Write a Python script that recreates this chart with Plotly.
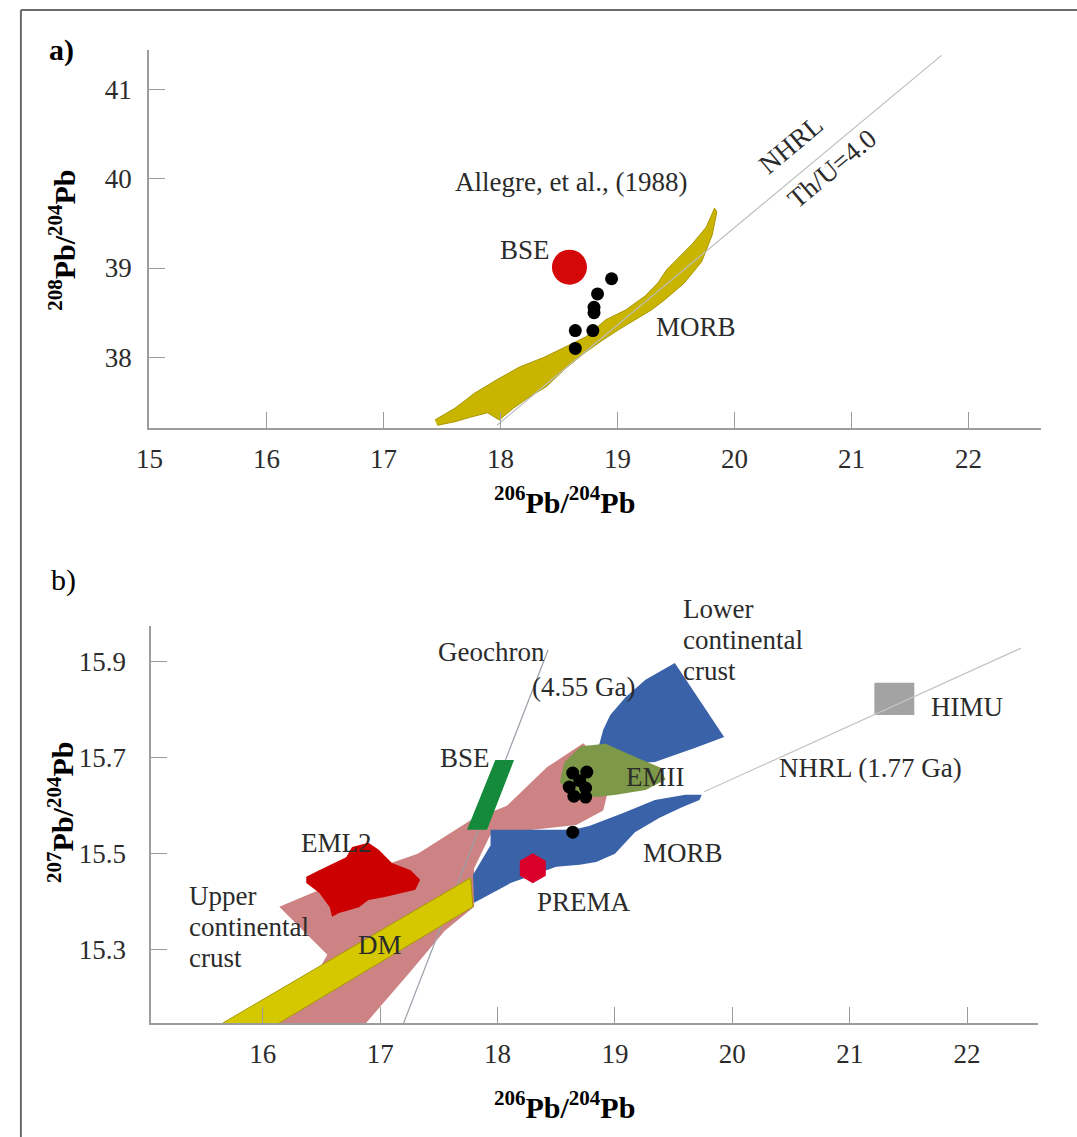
import plotly.graph_objects as go

# ---------------- panel a: 208Pb/204Pb vs 206Pb/204Pb ----------------
a_morb_x = [17.44, 17.61, 17.78, 17.97, 18.16, 18.37, 18.56, 18.73, 18.90, 19.07, 19.24, 19.35,
            19.42, 19.64, 19.76, 19.83, 19.85, 19.81, 19.72, 19.57, 19.40, 19.29, 19.15, 19.01,
            18.87, 18.73, 18.56, 18.39, 18.25, 18.11, 17.99, 17.89, 17.74, 17.61, 17.46]
a_morb_y = [37.30, 37.43, 37.60, 37.75, 37.89, 38.00, 38.12, 38.23, 38.42, 38.53, 38.69, 38.84,
            38.98, 39.27, 39.46, 39.67, 39.63, 39.37, 39.07, 38.83, 38.64, 38.53, 38.42, 38.31,
            38.19, 38.06, 37.88, 37.67, 37.56, 37.43, 37.30, 37.38, 37.33, 37.28, 37.24]

a_bse_x = [18.59]
a_bse_y = [39.01]

a_samples_x = [18.95, 18.83, 18.80, 18.80, 18.64, 18.79, 18.64]
a_samples_y = [38.88, 38.71, 38.56, 38.50, 38.30, 38.30, 38.10]

a_nhrl_x = [17.97, 21.77]
a_nhrl_y = [37.24, 41.38]

a_xticks = [15, 16, 17, 18, 19, 20, 21, 22]
a_yticks = [38, 39, 40, 41]

# ---------------- panel b: 207Pb/204Pb vs 206Pb/204Pb ----------------
ucc_x = [16.14, 16.73, 17.32, 17.77, 18.08, 18.42, 18.73, 18.90, 18.95, 18.90, 18.67, 17.94,
         17.80, 17.80, 17.55, 17.24, 16.88, 16.08, 16.40, 16.55]
ucc_y = [15.39, 15.45, 15.50, 15.57, 15.60, 15.68, 15.73, 15.69, 15.64, 15.59, 15.56, 15.54,
         15.47, 15.39, 15.34, 15.25, 15.148, 15.148, 15.227, 15.29]

eml2_x = [16.37, 16.48, 16.71, 16.76, 16.90, 16.99, 17.10, 17.26, 17.34, 17.30, 17.04, 16.90,
          16.82, 16.65, 16.59, 16.57, 16.48, 16.37]
eml2_y = [15.452, 15.466, 15.493, 15.514, 15.523, 15.508, 15.481, 15.466, 15.446, 15.425, 15.410,
          15.404, 15.389, 15.377, 15.369, 15.389, 15.419, 15.439]

dm_x = [15.66, 17.77, 17.79, 16.14]
dm_y = [15.148, 15.45, 15.39, 15.148]

morb_x = [17.94, 18.64, 18.78, 19.07, 19.34, 19.60, 19.74, 19.72, 19.58, 19.38, 19.17, 19.00,
          18.84, 18.70, 18.50, 18.27, 18.11, 17.80, 17.79, 17.94]
morb_y = [15.550, 15.550, 15.558, 15.585, 15.612, 15.623, 15.623, 15.612, 15.598, 15.575, 15.545,
          15.500, 15.483, 15.477, 15.473, 15.452, 15.439, 15.398, 15.456, 15.518]

lcc_x = [19.51, 19.93, 19.68, 19.34, 18.92, 18.86, 18.90, 18.96, 19.09, 19.26]
lcc_y = [15.897, 15.743, 15.720, 15.691, 15.685, 15.722, 15.758, 15.789, 15.826, 15.862]

emii_x = [18.53, 18.57, 18.71, 18.92, 19.13, 19.39, 19.43, 19.26, 19.01, 18.84, 18.63]
emii_y = [15.650, 15.691, 15.724, 15.729, 15.706, 15.679, 15.654, 15.633, 15.623, 15.618, 15.623]

bse_x = [17.74, 17.91, 18.14, 17.98]
bse_y = [15.55, 15.55, 15.695, 15.695]

himu_x = [21.21, 21.55, 21.55, 21.21]
himu_y = [15.789, 15.789, 15.856, 15.856]

prema_x = [18.30]
prema_y = [15.47]

b_samples_x = [18.64, 18.76, 18.70, 18.61, 18.75, 18.65, 18.75, 18.64]
b_samples_y = [15.668, 15.670, 15.652, 15.639, 15.637, 15.620, 15.618, 15.545]

geochron_x = [17.20, 18.43]
geochron_y = [15.148, 15.924]

b_nhrl_x = [19.76, 22.46]
b_nhrl_y = [15.629, 15.928]

b_xticks = [16, 17, 18, 19, 20, 21, 22]
b_yticks = [15.3, 15.5, 15.7, 15.9]

SERIF = "Liberation Serif, Times New Roman, serif"
TXT = "#2b2b2b"
AXC = "#9c9c9c"

fig = go.Figure()


def area(x, y, color, xa, ya, edge=None):
    fig.add_trace(go.Scatter(
        x=x, y=y, fill="toself", fillcolor=color, mode="lines",
        line=dict(color=edge or color, width=1 if edge else 0),
        xaxis=xa, yaxis=ya, hoverinfo="skip", showlegend=False))


def line(x, y, xa, ya, color="#b0b0b0", width=1.2):
    fig.add_trace(go.Scatter(
        x=x, y=y, mode="lines", line=dict(color=color, width=width),
        xaxis=xa, yaxis=ya, hoverinfo="skip", showlegend=False))


def dots(x, y, xa, ya, color="black", size=13, symbol="circle"):
    fig.add_trace(go.Scatter(
        x=x, y=y, mode="markers",
        marker=dict(color=color, size=size, symbol=symbol, line=dict(width=0)),
        xaxis=xa, yaxis=ya, hoverinfo="skip", showlegend=False, cliponaxis=False))


# panel a
area(a_morb_x, a_morb_y, "#c9b500", "x", "y", edge="#a89600")
line(a_nhrl_x, a_nhrl_y, "x", "y", color="#bdbdbd")
dots(a_bse_x, a_bse_y, "x", "y", color="#d40808", size=35)
dots(a_samples_x, a_samples_y, "x", "y", size=13)

# panel b
area(ucc_x, ucc_y, "#cd8383", "x2", "y2")
line(geochron_x, geochron_y, "x2", "y2", color="#9aa0a8")
area(eml2_x, eml2_y, "#cc0000", "x2", "y2")
area(dm_x, dm_y, "#d6c800", "x2", "y2", edge="#a59a00")
area(morb_x, morb_y, "#3a62a8", "x2", "y2")
area(lcc_x, lcc_y, "#3a62a8", "x2", "y2")
area(emii_x, emii_y, "#7d9848", "x2", "y2")
area(bse_x, bse_y, "#148a3a", "x2", "y2")
area(himu_x, himu_y, "#a3a3a3", "x2", "y2")
line(b_nhrl_x, b_nhrl_y, "x2", "y2", color="#c4c4c4")
dots(prema_x, prema_y, "x2", "y2", color="#d8002a", size=30, symbol="hexagon")
dots(b_samples_x, b_samples_y, "x2", "y2", size=13)

ax_common = dict(
    showline=True, linecolor=AXC, linewidth=1.6, ticks="inside", ticklen=16,
    tickcolor=AXC, tickwidth=1.3, showgrid=False, zeroline=False,
    tickfont=dict(family=SERIF, size=27, color=TXT), fixedrange=True,
)

fig.update_layout(
    width=1077, height=1137, margin=dict(l=0, r=0, t=0, b=0),
    paper_bgcolor="white", plot_bgcolor="white", showlegend=False,
    xaxis=dict(ax_common, domain=[0.1277, 0.9661], range=[14.995, 22.62], anchor="y",
               tickvals=a_xticks, ticklabelstandoff=6),
    yaxis=dict(ax_common, domain=[0.6236, 0.9560], range=[37.21, 41.44], anchor="x",
               tickvals=a_yticks, ticklabelstandoff=10),
    xaxis2=dict(ax_common, domain=[0.1300, 0.9629], range=[15.05, 22.6], anchor="y2",
                tickvals=b_xticks, ticklabelstandoff=6),
    yaxis2=dict(ax_common, domain=[0.1003, 0.4494], range=[15.148, 15.974], anchor="x2",
                tickvals=b_yticks, ticktext=[f"{v:.1f}" for v in b_yticks], ticklabelstandoff=18),
)


def note(text, x, y, xr, yr, size=27, angle=0, xanchor="center", yshift=0, color=TXT):
    fig.add_annotation(text=text, x=x, y=y, xref=xr, yref=yr, showarrow=False,
                       textangle=angle, xanchor=xanchor, yanchor="middle", yshift=yshift,
                       font=dict(family=SERIF, size=size, color=color))


title_x = "<b><sup>206</sup>Pb/<sup>204</sup>Pb</b>"

# panel a labels
note("<b>a)</b>", 34 / 1077, 1 - 50 / 1137, "paper", "paper", size=30, xanchor="left", color="black")
note("<b><sup>208</sup>Pb/<sup>204</sup>Pb</b>", 0.046, 0.789, "paper", "paper", size=30, angle=-90, color="black")
note(title_x, 0.518, 0.560, "paper", "paper", size=30, color="black")
note("Allegre, et al., (1988)", 18.60, 39.96, "x", "y")
note("BSE", 18.21, 39.20, "x", "y")
note("MORB", 19.67, 38.34, "x", "y")
note("NHRL", 20.48, 40.38, "x", "y", angle=-40)
note("Th/U=4.0", 20.83, 40.11, "x", "y", angle=-40)

# panel b labels
note("b)", 36 / 1077, 1 - 580 / 1137, "paper", "paper", size=30, xanchor="left", color="black")
note("<b><sup>207</sup>Pb/<sup>204</sup>Pb</b>", 0.045, 0.2858, "paper", "paper", size=30, angle=-90, color="black")
note(title_x, 0.518, 0.028, "paper", "paper", size=30, color="black")
note("Geochron", 17.95, 15.920, "x2", "y2")
note("(4.55 Ga)", 18.73, 15.847, "x2", "y2")
for i, word in enumerate(["Lower", "continental", "crust"]):
    note(word, 19.56, 15.945, "x2", "y2", xanchor="left", yshift=31 - 31 * i)
for i, word in enumerate(["Upper", "continental", "crust"]):
    note(word, 15.35, 15.348, "x2", "y2", xanchor="left", yshift=31 - 31 * i)
note("BSE", 17.72, 15.70, "x2", "y2")
note("EML2", 16.63, 15.523, "x2", "y2")
note("EMII", 19.34, 15.660, "x2", "y2")
note("DM", 17.00, 15.31, "x2", "y2")
note("MORB", 19.58, 15.502, "x2", "y2")
note("PREMA", 18.74, 15.40, "x2", "y2")
note("HIMU", 22.00, 15.806, "x2", "y2")
note("NHRL (1.77 Ga)", 21.18, 15.679, "x2", "y2")

# frame lines along the top and left edges
fig.add_shape(type="line", xref="paper", yref="paper", x0=8 / 1077, x1=1.0,
              y0=1 - 10 / 1137, y1=1 - 10 / 1137, line=dict(color="#6a6a6a", width=2))
fig.add_shape(type="line", xref="paper", yref="paper", x0=8 / 1077, x1=8 / 1077,
              y0=0, y1=1 - 10 / 1137, line=dict(color="#6a6a6a", width=2))

fig.write_html("out.html")
